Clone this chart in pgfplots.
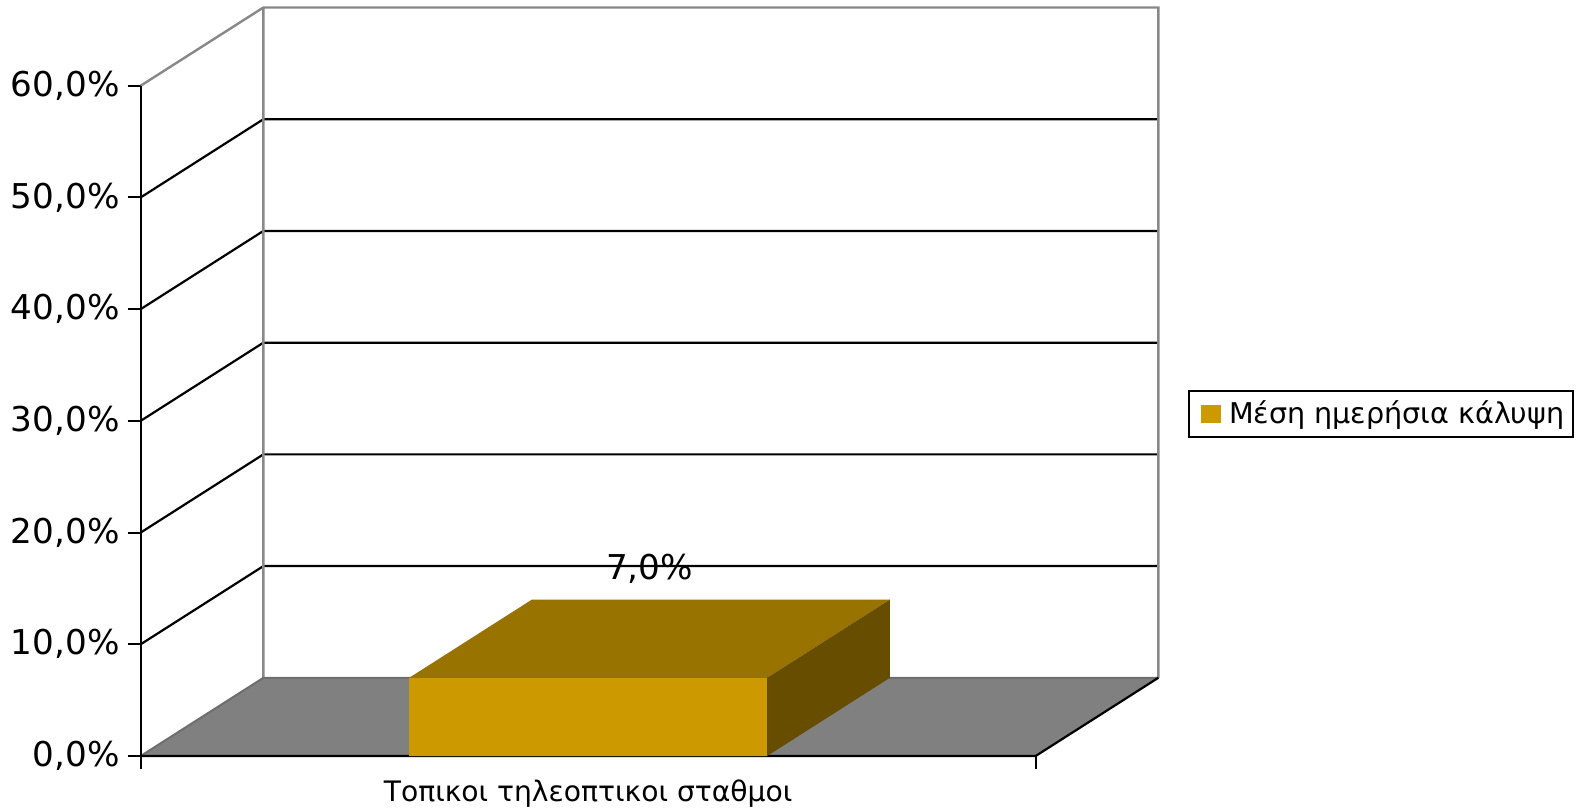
\documentclass[border=0pt]{standalone}
\usepackage{pgfplots}
\pgfplotsset{compat=1.18}
\usepackage{fontspec}
\setmainfont{DejaVu Sans}
\definecolor{barfront}{HTML}{CC9900}
\definecolor{bartop}{HTML}{997300}
\definecolor{barside}{HTML}{664D00}
\definecolor{floorgray}{HTML}{808080}
\definecolor{wallgray}{HTML}{888888}
\definecolor{edgegray}{HTML}{6E6E6E}
\begin{document}
\begin{tikzpicture}
\path[use as bounding box] (-70.35pt,-27pt) rectangle (721.65pt,378pt);
\begin{axis}[
  scale only axis, width=508.8pt, height=374.25pt,
  xmin=0, xmax=1.1371, ymin=0, ymax=67,
  clip=false,
  axis lines*=left,
  axis line style={draw=none},
  tick align=outside,
  major tick length=6.5pt,
  tick style={black, line width=1pt},
  ytick={0,10,...,60},
  yticklabels={{0,0\%},{10,0\%},{20,0\%},{30,0\%},{40,0\%},{50,0\%},{60,0\%}},
  yticklabel style={font=\fontsize{17.1}{20}\selectfont, xshift=-0.5pt},
  xtick={0,1}, xticklabels={},
  extra x ticks={0.5},
  extra x tick labels={Τοπικοι τηλεοπτικοι σταθμοι},
  extra x tick style={major tick length=0pt, xticklabel style={font=\fontsize{14.1}{17}\selectfont, yshift=-8.5pt}},
  legend style={at={(axis description cs:1.0292,0.4569)}, anchor=west, draw=black, line width=1pt,
    font=\fontsize{14.3}{17}\selectfont, inner xsep=2.5pt, inner ysep=3pt},
  legend cell align=left,
]
% side and back wall gridlines
\addplot[black, line width=1.1pt, forget plot, unbounded coords=jump] coordinates {
  (0,10) (0.1371,17) (1.1371,17) (nan,nan)
  (0,20) (0.1371,27) (1.1371,27) (nan,nan)
  (0,30) (0.1371,37) (1.1371,37) (nan,nan)
  (0,40) (0.1371,47) (1.1371,47) (nan,nan)
  (0,50) (0.1371,57) (1.1371,57)
};
% wall borders
\addplot[wallgray, line width=1.2pt, forget plot, unbounded coords=jump] coordinates {
  (0,60) (0.1371,67) (1.1371,67) (1.1371,7) (nan,nan)
  (0.1371,67) (0.1371,7)
};
% floor
\addplot[fill=floorgray, draw=none, forget plot] coordinates {(0,0) (1,0) (1.1371,7) (0.1371,7) (0,0)};
\addplot[edgegray, line width=1pt, forget plot] coordinates {(0,0) (0.1371,7) (1.1371,7)};
\addplot[black, line width=1.1pt, forget plot] coordinates {(0,0) (1,0) (1.1371,7)};
% bar
\addplot[fill=barfront, draw=none,
  legend image code/.code={\path (0pt,0pt) (15.5pt,0pt); \fill[barfront] (3.5pt,-4.7pt) rectangle (13.5pt,4.7pt);}]
  coordinates {(0.3,0) (0.7,0) (0.7,7) (0.3,7) (0.3,0)};
\addlegendentry{Μέση ημερήσια κάλυψη}
\addplot[fill=bartop, draw=none, forget plot] coordinates {(0.3,7) (0.7,7) (0.8371,14) (0.4371,14) (0.3,7)};
\addplot[fill=barside, draw=none, forget plot] coordinates {(0.7,0) (0.8371,7) (0.8371,14) (0.7,7) (0.7,0)};
% front left axis
\addplot[black, line width=1.1pt, forget plot] coordinates {(0,0) (0,60)};
% data label
\addplot[draw=none, forget plot, nodes near coords={7,0\%},
  nodes near coords style={anchor=base, yshift=10.3pt, font=\fontsize{17.1}{20}\selectfont, text=black}]
  coordinates {(0.5686,14)};
\end{axis}
\end{tikzpicture}
\end{document}
